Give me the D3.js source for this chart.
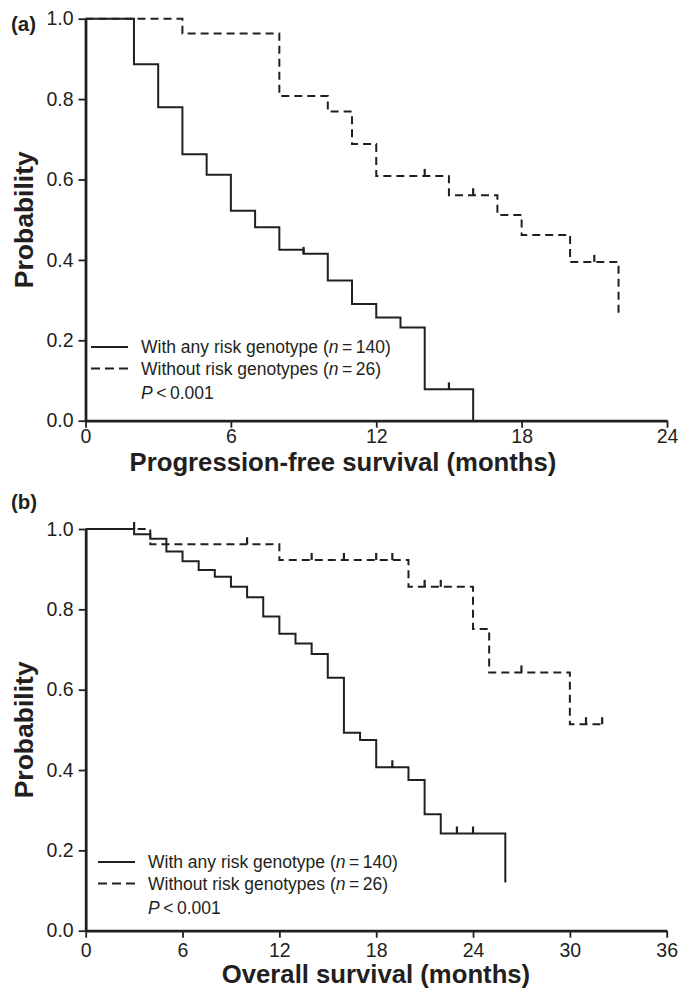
<!DOCTYPE html>
<html>
<head>
<meta charset="utf-8">
<script src="https://cdn.jsdelivr.net/npm/d3@7"></script>
<style>
  body { margin: 0; background: #fff; }
  svg { display: block; }
  text { font-family: "Liberation Sans", Arial, sans-serif; fill: #231f20; }
</style>
</head>
<body>
<div id="chart"></div>
<script>
// (a) progression-free survival
var pfsXTicks = [0, 6, 12, 18, 24]
var pfsRiskTimes = [2, 3, 4, 5, 6, 7, 8, 9, 10, 11, 12, 13, 14, 16]
var pfsRiskSurv = [0.887, 0.780, 0.663, 0.612, 0.522, 0.481, 0.425, 0.415, 0.349, 0.290, 0.257, 0.232, 0.078, 0]
var pfsRiskCensor = [9, 15]
var pfsRiskEnd = 16
var pfsNoRiskTimes = [4, 8, 10, 11, 12, 15, 17, 18, 20, 22]
var pfsNoRiskSurv = [0.963, 0.808, 0.769, 0.688, 0.609, 0.561, 0.512, 0.462, 0.395, 0.263]
var pfsNoRiskCensor = [14, 16, 21]
var pfsNoRiskEnd = 22

// (b) overall survival
var osXTicks = [0, 6, 12, 18, 24, 30, 36]
var osRiskTimes = [3, 4, 5, 6, 7, 8, 9, 10, 11, 12, 13, 14, 15, 16, 17, 18, 20, 21, 22, 26]
var osRiskSurv = [0.987, 0.976, 0.944, 0.920, 0.898, 0.881, 0.856, 0.830, 0.782, 0.739, 0.715, 0.689, 0.630, 0.493, 0.475, 0.407, 0.375, 0.290, 0.242, 0.120]
var osRiskCensor = [19, 23, 24]
var osRiskEnd = 26
var osNoRiskTimes = [4, 12, 20, 24, 25, 30]
var osNoRiskSurv = [0.962, 0.923, 0.856, 0.751, 0.643, 0.514]
var osNoRiskCensor = [3, 10, 14, 16, 18, 19, 21, 22, 27, 31, 32]
var osNoRiskEnd = 32

var yTicks = [0, 0.2, 0.4, 0.6, 0.8, 1.0]
var legendLabels = ["With any risk genotype", "Without risk genotypes"]
var legendN = ["140", "26"]

var ink = "#231f20"

var svg = d3.select("#chart").append("svg")
    .attr("width", 678)
    .attr("height", 990)

// turn event times into step points, starting at (0, 1)
function stepPoints(times, surv, end){
    var pts = [[0, 1]]
    for(var i=0; i<times.length; i++){
        pts.push([times[i], surv[i]])
    }
    if(end > times[times.length-1]){
        pts.push([end, surv[surv.length-1]])
    }
    return pts
}

function survAt(times, surv, t){
    var s = 1
    for(var i=0; i<times.length; i++){
        if(times[i] <= t) s = surv[i]
    }
    return s
}

function drawPanel(p){
    var x = d3.scaleLinear().domain(p.xDomain).range(p.xRange)
    var y = d3.scaleLinear().domain([0, 1]).range(p.yRange)
    var g = svg.append("g")

    // axes
    var xAxis = g.append("g")
        .attr("transform", "translate(0," + p.yRange[0] + ")")
        .call(d3.axisBottom(x).tickValues(p.xTicks).tickSize(7).tickSizeOuter(0).tickPadding(p.xPad))
    var yAxis = g.append("g")
        .attr("transform", "translate(" + p.xRange[0] + ",0)")
        .call(d3.axisLeft(y).tickValues(yTicks).tickSize(7).tickSizeOuter(0).tickPadding(5).tickFormat(d3.format(".1f")))
    ;[xAxis, yAxis].forEach(function(a){
        a.select(".domain").attr("stroke", ink).attr("stroke-width", 2.8)
        a.selectAll(".tick line").attr("stroke", ink).attr("stroke-width", 1.8)
        a.selectAll(".tick text").attr("font-size", 19.5).attr("fill", ink)
            .style("font-family", '"Liberation Sans", Arial, sans-serif')
    })

    var line = d3.line()
        .x(function(d){ return x(d[0]) })
        .y(function(d){ return y(d[1]) })
        .curve(d3.curveStepAfter)

    p.series.forEach(function(s){
        g.append("path")
            .datum(stepPoints(s.times, s.surv, s.end))
            .attr("fill", "none")
            .attr("stroke", ink)
            .attr("stroke-width", 2)
            .attr("stroke-dasharray", s.dashed ? "8,5" : null)
            .attr("d", line)
        g.selectAll(null)
            .data(s.censor)
            .enter()
            .append("line")
            .attr("x1", function(d){ return x(d) })
            .attr("x2", function(d){ return x(d) })
            .attr("y1", function(d){ return y(survAt(s.times, s.surv, d)) })
            .attr("y2", function(d){ return y(survAt(s.times, s.surv, d)) - 7 })
            .attr("stroke", ink)
            .attr("stroke-width", 2.2)
    })

    // legend
    for(var i=0; i<2; i++){
        var ly = p.legendY + i*21.5
        g.append("line")
            .attr("x1", p.legendX).attr("x2", p.legendX + 37)
            .attr("y1", ly).attr("y2", ly)
            .attr("stroke", ink).attr("stroke-width", 2)
            .attr("stroke-dasharray", i==1 ? "9,5" : null)
        var t = g.append("text")
            .attr("x", p.legendX + 50).attr("y", ly + 6)
            .attr("font-size", 17.5)
        t.append("tspan").text(legendLabels[i] + " (")
        t.append("tspan").attr("font-style", "italic").text("n")
        t.append("tspan").text("\u2009=\u2009" + legendN[i] + ")")
    }
    var pt = g.append("text")
        .attr("x", p.legendX + 50).attr("y", p.legendY + 2*21.5 + 9)
        .attr("font-size", 17.5)
    pt.append("tspan").attr("font-style", "italic").text("P")
    pt.append("tspan").text("\u2009<\u20090.001")

    // labels
    g.append("text")
        .attr("x", 11).attr("y", p.tagY)
        .attr("font-size", 20.5).attr("font-weight", "bold")
        .text(p.tag)
    g.append("text")
        .attr("transform", "translate(33," + ((p.yRange[0] + p.yRange[1]) / 2) + ") rotate(-90)")
        .attr("text-anchor", "middle")
        .attr("font-size", 26.5).attr("font-weight", "bold")
        .text("Probability")
    g.append("text")
        .attr("x", p.titleX).attr("y", p.yRange[0] + p.titleDy)
        .attr("text-anchor", "middle")
        .attr("font-size", 25.7).attr("font-weight", "bold")
        .text(p.title)
}

drawPanel({
    xDomain: [0, 24], xRange: [85.5, 667], yRange: [420.7, 18.7],
    xTicks: pfsXTicks, xPad: 1,
    series: [
        {times: pfsRiskTimes, surv: pfsRiskSurv, censor: pfsRiskCensor, end: pfsRiskEnd, dashed: false},
        {times: pfsNoRiskTimes, surv: pfsNoRiskSurv, censor: pfsNoRiskCensor, end: pfsNoRiskEnd, dashed: true}
    ],
    legendX: 91, legendY: 347,
    tag: "(a)", tagY: 31,
    title: "Progression-free survival (months)", titleX: 343, titleDy: 50
})

drawPanel({
    xDomain: [0, 36], xRange: [85.7, 666.7], yRange: [930.7, 529],
    xTicks: osXTicks, xPad: 5,
    series: [
        {times: osRiskTimes, surv: osRiskSurv, censor: osRiskCensor, end: osRiskEnd, dashed: false},
        {times: osNoRiskTimes, surv: osNoRiskSurv, censor: osNoRiskCensor, end: osNoRiskEnd, dashed: true}
    ],
    legendX: 98, legendY: 862,
    tag: "(b)", tagY: 509,
    title: "Overall survival (months)", titleX: 376, titleDy: 52.5
})
</script>
</body>
</html>
